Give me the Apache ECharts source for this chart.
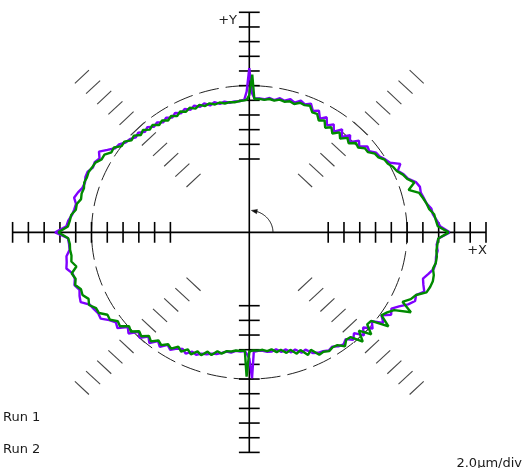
<!DOCTYPE html>
<html><head><meta charset="utf-8">
<script src="https://cdn.jsdelivr.net/npm/echarts@6/dist/echarts.min.js"></script>
<style>html,body{margin:0;padding:0;background:#fff}#c{width:523px;height:468px}</style>
</head><body><div id="c"></div>
<script>
// Polar profile: angle (degrees, CCW from +X) and radius (divisions, 2.0 µm/div)
const angleDeg = [
  0,2,4,6,8,10,12,14,16,18,
  20,22,24,26,28,30,32,34,36,38,
  40,42,44,46,48,50,52,54,56,58,
  60,62,64,66,68,70,72,74,76,78,
  80,82,84,86,88,89,90,91,92,94,96,98,
  100,102,104,106,108,110,112,114,116,118,
  120,122,124,126,128,130,132,134,136,138,
  140,142,144,146,148,150,152,154,156,158,
  160,162,164,166,168,170,172,174,176,178,
  180,182,184,186,188,190,192,194,196,198,
  200,202,204,206,208,210,212,214,216,218,
  220,222,224,226,228,230,232,234,236,238,
  240,242,244,246,248,250,252,254,256,258,
  260,262,264,266,268,269,270,271,272,274,276,278,
  280,282,284,286,288,290,292,294,296,298,
  300,302,304,306,308,310,312,314,316,318,
  320,322,324,326,328,330,332,334,336,338,
  340,342,344,346,348,350,352,354,356,358
];
const run1 = [
  12.7,12.1,11.9,11.7,11.65,11.4,11.3,11.2,11.25,11.1,
  10.7,10.55,10.3,10.65,10.1,9.95,9.75,9.7,9.4,9.5,
  9.1,9.35,8.85,9.2,8.75,9.15,8.7,9.1,8.8,9.25,
  8.95,9.4,9.2,9.6,9.4,9.55,9.3,9.45,9.25,9.35,
  9.15,9.25,9.12,9.15,9.15,9.5,11.2,9.6,9.05,8.95,8.98,8.92,
  9.05,8.95,9.15,9.0,9.25,9.1,9.32,9.15,9.35,9.2,
  9.4,9.22,9.42,9.28,9.5,9.4,9.65,9.52,9.78,9.68,
  9.88,9.95,10.2,10.25,10.6,11.0,10.75,10.9,10.85,11.05,
  11.05,10.95,11.0,11.2,11.35,11.15,11.2,11.3,11.5,11.6,
  12.3,11.5,11.45,11.45,11.7,11.75,11.85,11.55,11.5,11.65,
  11.45,11.6,11.7,11.25,11.15,11.05,11.1,10.7,10.45,10.6,
  10.05,10.3,9.75,10.0,9.55,9.85,9.4,9.65,9.25,9.45,
  9.15,9.0,9.2,8.9,9.0,8.8,8.75,8.6,8.55,8.4,
  8.25,8.28,8.12,8.15,8.1,8.3,8.6,9.95,8.15,8.1,8.12,8.22,
  8.25,8.15,8.4,8.3,8.6,8.5,8.85,8.75,9.15,9.3,
  9.35,9.5,9.4,9.6,9.7,9.5,9.85,9.55,10.1,9.7,
  10.2,9.85,10.5,10.1,10.6,10.4,10.75,11.2,11.5,11.4,
  11.8,11.6,11.45,11.7,11.95,12.0,11.95,12.0,11.9,12.0
];
const run2 = [
  12.65,11.95,11.85,11.78,11.5,11.4,11.25,11.1,10.5,11.0,
  10.65,10.5,10.25,10.15,9.95,9.9,9.65,9.6,9.3,9.3,
  9.0,9.1,8.75,8.95,8.6,8.9,8.55,8.85,8.6,9.0,
  8.8,9.15,9.1,9.45,9.35,9.4,9.2,9.3,9.18,9.25,
  9.12,9.18,9.08,9.12,9.1,10.75,9.35,9.05,9.0,8.97,8.92,8.96,
  8.92,9.05,8.98,9.15,9.05,9.25,9.1,9.3,9.15,9.33,
  9.15,9.35,9.2,9.42,9.28,9.55,9.42,9.7,9.55,9.85,
  9.75,10.05,10.0,10.35,10.3,10.6,10.6,10.85,10.9,10.98,
  10.95,11.0,10.9,10.95,10.9,11.1,11.1,11.35,11.4,11.5,
  12.1,11.48,11.4,11.42,11.38,11.45,11.2,11.6,11.45,11.6,
  11.35,11.4,11.15,11.3,11.0,11.0,10.6,10.65,10.3,10.4,
  9.95,10.1,9.7,9.85,9.5,9.7,9.35,9.5,9.2,9.35,
  9.0,9.2,8.88,9.1,8.75,8.92,8.55,8.7,8.35,8.45,
  8.22,8.2,8.1,8.1,8.08,9.84,8.15,8.07,8.06,8.08,8.05,8.18,
  8.1,8.35,8.25,8.55,8.42,8.8,8.65,9.15,8.9,9.45,
  9.4,9.55,9.45,9.5,9.85,9.55,9.6,10.35,9.65,10.4,
  9.75,9.8,10.9,10.1,10.3,10.6,11.6,10.8,11.2,11.4,
  11.95,12.05,12.1,12.05,11.9,12.0,12.0,11.92,11.95,11.98
];
const seriesNames = ['Run 1', 'Run 2'];
const seriesColors = ['#8000ff', '#008a00'];
const tickDivs = [5,6,7,8,9,10,11,12,13,14,15];
const refCircleDiv = 10;
const axisExtent = 15;
const scaleLabel = '2.0µm/div';

const FONT = '"DejaVu Sans", Verdana, sans-serif';

function toXY(r) {
  const pts = angleDeg.map((a, i) => {
    const t = a * Math.PI / 180;
    return [r[i] * Math.cos(t), r[i] * Math.sin(t)];
  });
  pts.push(pts[0]);
  return pts;
}

function renderFrame(params, api) {
  const c = (x, y) => api.coord([x, y]);
  const children = [];
  const axStyle = { stroke: '#000', lineWidth: 1.6 };
  const tk = 10.4;
  const circ = [];
  for (let a = 0; a <= 360; a += 2) {
    const t = a * Math.PI / 180;
    circ.push(c(refCircleDiv * Math.cos(t), refCircleDiv * Math.sin(t)));
  }
  children.push({ type: 'polyline', shape: { points: circ },
    style: { stroke: '#222', lineWidth: 1, lineDash: [20, 7], fill: null } });
  [45, 135, 225, 315].forEach(deg => {
    const t = deg * Math.PI / 180;
    tickDivs.forEach(d => {
      const p = c(d * Math.cos(t), d * Math.sin(t));
      const q = c(d * Math.cos(t) - Math.sin(t), d * Math.sin(t) + Math.cos(t));
      let vx = q[0] - p[0], vy = q[1] - p[1];
      const L = Math.hypot(vx, vy); vx /= L; vy /= L;
      const h = 9.6;
      children.push({ type: 'line', shape: { x1: p[0] - vx * h, y1: p[1] - vy * h, x2: p[0] + vx * h, y2: p[1] + vy * h },
        style: { stroke: '#444', lineWidth: 1.1 } });
    });
  });
  const xa = c(-axisExtent, 0), xb = c(axisExtent, 0);
  const ya = c(0, -axisExtent), yb = c(0, axisExtent);
  children.push({ type: 'line', shape: { x1: xa[0], y1: xa[1], x2: xb[0], y2: xb[1] }, style: axStyle });
  children.push({ type: 'line', shape: { x1: ya[0], y1: ya[1], x2: yb[0], y2: yb[1] }, style: axStyle });
  tickDivs.forEach(d => {
    [d, -d].forEach(v => {
      const px = c(v, 0);
      children.push({ type: 'line', shape: { x1: px[0], y1: px[1] - tk, x2: px[0], y2: px[1] + tk }, style: axStyle });
      const py = c(0, v);
      children.push({ type: 'line', shape: { x1: py[0] - tk, y1: py[1], x2: py[0] + tk, y2: py[1] }, style: axStyle });
    });
  });
  const ar = 1.5;
  const arc = [];
  for (let a = 0; a <= 74; a += 2) {
    const t = a * Math.PI / 180;
    arc.push(c(ar * Math.cos(t), ar * Math.sin(t)));
  }
  children.push({ type: 'polyline', shape: { points: arc }, style: { stroke: '#111', lineWidth: 1, fill: null } });
  const tip = c(ar * Math.cos(85 * Math.PI / 180), ar * Math.sin(85 * Math.PI / 180));
  const base = c(ar * Math.cos(71 * Math.PI / 180), ar * Math.sin(71 * Math.PI / 180));
  let dx = tip[0] - base[0], dy = tip[1] - base[1];
  const dl = Math.hypot(dx, dy); const nx = -dy / dl * 2.2, ny = dx / dl * 2.2;
  children.push({ type: 'polygon', shape: { points: [tip, [base[0] + nx, base[1] + ny], [base[0] - nx, base[1] - ny]] },
    style: { fill: '#111', stroke: '#111', lineWidth: 0.5 } });
  return { type: 'group', children };
}

const chart = echarts.init(document.getElementById('c'), null, { renderer: 'canvas' });
chart.setOption({
  animation: false,
  backgroundColor: '#fff',
  grid: { left: 12.6, top: 12.3, width: 473.4, height: 440.1, containLabel: false },
  xAxis: { type: 'value', min: -axisExtent, max: axisExtent, show: false },
  yAxis: { type: 'value', min: -axisExtent, max: axisExtent, show: false },
  legend: {
    orient: 'vertical', left: -3, top: 411, padding: 0,
    itemWidth: 1, itemHeight: 14, itemGap: 18, icon: 'rect',
    textStyle: { fontFamily: FONT, fontSize: 13, color: '#1a1a1a', lineHeight: 14 },
    data: seriesNames
  },
  graphic: [
    { type: 'text', x: 237, y: 20.5, style: { text: '+Y', font: '13px ' + FONT, fill: '#222', align: 'right', verticalAlign: 'middle' } },
    { type: 'text', x: 487, y: 250.5, style: { text: '+X', font: '13px ' + FONT, fill: '#222', align: 'right', verticalAlign: 'middle' } },
    { type: 'text', x: 522, y: 463.3, style: { text: scaleLabel, font: '13px ' + FONT, fill: '#1a1a1a', align: 'right', verticalAlign: 'middle' } }
  ],
  series: [
    { type: 'custom', name: 'frame', data: [[0, 0]], renderItem: renderFrame, silent: true, z: 1 },
    { type: 'line', name: seriesNames[0], data: toXY(run1), showSymbol: false, clip: false, z: 3,
      lineStyle: { color: seriesColors[0], width: 2.4 }, itemStyle: { color: seriesColors[0] } },
    { type: 'line', name: seriesNames[1], data: toXY(run2), showSymbol: false, clip: false, z: 4,
      lineStyle: { color: seriesColors[1], width: 2.4 }, itemStyle: { color: seriesColors[1] } }
  ]
});
</script></body></html>
